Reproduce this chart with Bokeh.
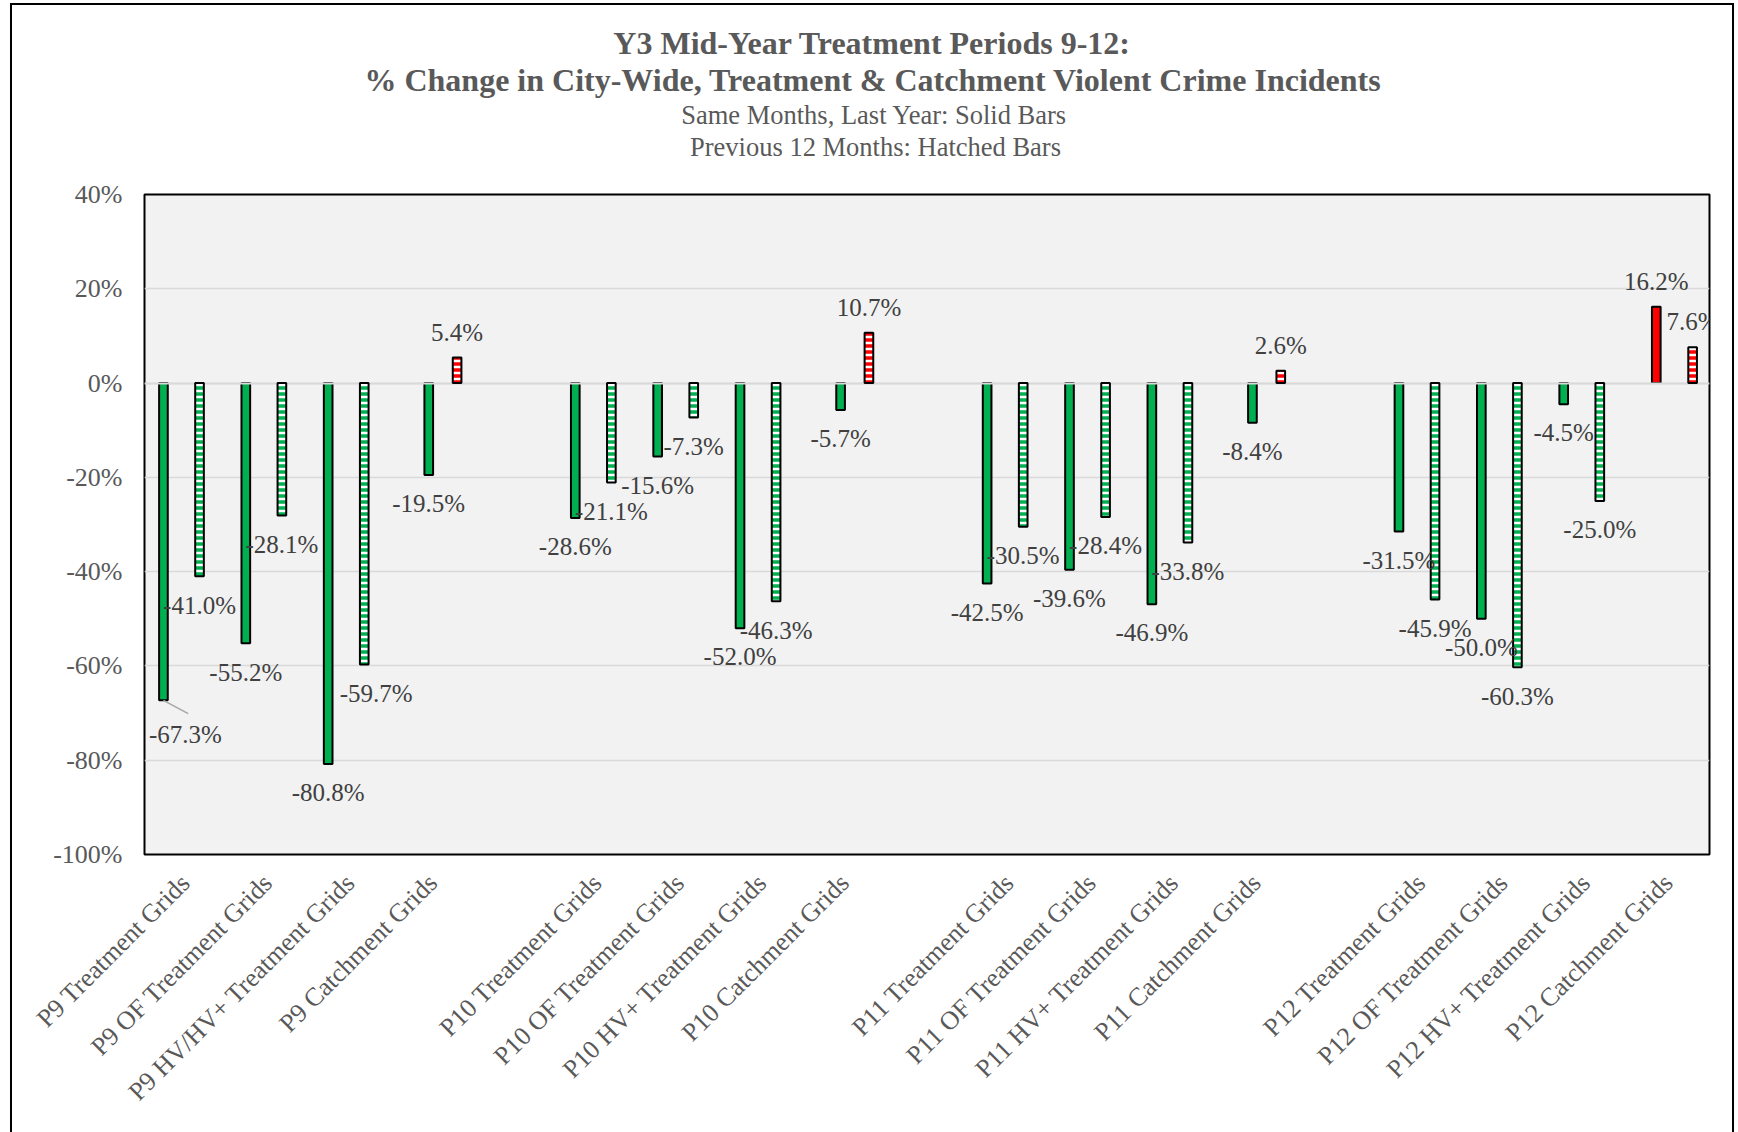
from math import pi
from bokeh.plotting import figure
from bokeh.models import (ColumnDataSource, FactorRange, LabelSet, Title, FixedTicker)
from bokeh.transform import dodge
from bokeh.embed import file_html
from bokeh.resources import INLINE

# ---------------- data ----------------
categories = [
    "P9 Treatment Grids", "P9 OF Treatment Grids", "P9 HV/HV+ Treatment Grids", "P9 Catchment Grids",
    "P10 Treatment Grids", "P10 OF Treatment Grids", "P10 HV+ Treatment Grids", "P10 Catchment Grids",
    "P11 Treatment Grids", "P11 OF Treatment Grids", "P11 HV+ Treatment Grids", "P11 Catchment Grids",
    "P12 Treatment Grids", "P12 OF Treatment Grids", "P12 HV+ Treatment Grids", "P12 Catchment Grids",
]
is_catchment = [False, False, False, True] * 4
same_months_last_year = [-67.3, -55.2, -80.8, -19.5,
                         -28.6, -15.6, -52.0, -5.7,
                         -42.5, -39.6, -46.9, -8.4,
                         -31.5, -50.0, -4.5, 16.2]
previous_12_months = [-41.0, -28.1, -59.7, 5.4,
                      -21.1, -7.3, -46.3, 10.7,
                      -30.5, -28.4, -33.8, 2.6,
                      -45.9, -60.3, -25.0, 7.6]
y_ticks = [40, 20, 0, -20, -40, -60, -80, -100]
title_lines = ["Y3 Mid-Year Treatment Periods 9-12:",
               "% Change in City-Wide, Treatment & Catchment Violent Crime Incidents"]
subtitle_lines = ["Same Months, Last Year: Solid Bars",
                  "Previous 12 Months: Hatched Bars"]

# ---------------- styling ----------------
GREEN = "#00B050"
RED = "#FF0000"
TXT = "#595959"
LBL = "#404040"
FONT = "Liberation Serif"
FRAME_LEFT = 144
TEXT_CENTER = 875

# Liberation Serif (Times metrics) advance widths, per 1000 em, used only to centre titles
W_REG = {" ": 250, ",": 250, ":": 278, "S": 556, "a": 444, "m": 778, "e": 444, "M": 889,
         "o": 500, "n": 500, "t": 278, "h": 500, "s": 389, "L": 611, "Y": 722, "r": 333,
         "l": 278, "i": 278, "d": 500, "B": 667, "P": 556, "v": 500, "u": 500, "H": 722,
         "c": 444, "1": 500, "2": 500}
W_BOLD = {" ": 250, ",": 250, ":": 333, "-": 333, "%": 1000, "&": 833, "Y": 722, "M": 944,
          "i": 278, "d": 556, "e": 444, "a": 500, "r": 444, "T": 667, "t": 333, "m": 833,
          "n": 556, "P": 611, "o": 500, "s": 389, "C": 722, "h": 556, "g": 500, "y": 500,
          "W": 1000, "c": 444, "V": 722, "l": 278, "I": 389}


def text_width(s, table, size):
    return sum(table.get(ch, 500) for ch in s) / 1000.0 * size


# factors with blank separators between period groups
factors = []
for i, c in enumerate(categories):
    factors.append(c)
    if i % 4 == 3 and i < len(categories) - 1:
        factors.append(" " * (i // 4 + 1))

p = figure(x_range=FactorRange(*factors, range_padding=0), y_range=(-100, 40),
           frame_width=1565, frame_height=660,
           min_border_left=FRAME_LEFT, min_border_right=29, min_border_top=194,
           min_border_bottom=278,
           output_backend="svg", toolbar_location=None)
p.background_fill_color = "#F2F2F2"
p.border_fill_color = None
p.outline_line_color = "black"
p.outline_line_width = 2
# outer chart border (page decoration around the whole chart)
p.styles = {
    "background": ("linear-gradient(#000,#000) 10px 3px / 2px 1300px no-repeat, "
                   "linear-gradient(#000,#000) 10px 3px / 1724px 2px no-repeat, "
                   "linear-gradient(#000,#000) 1732px 3px / 2px 1300px no-repeat, #ffffff"),
}

p.xgrid.grid_line_color = None
p.ygrid.grid_line_color = "#D9D9D9"
p.ygrid.grid_line_width = 1.5

p.yaxis.ticker = FixedTicker(ticks=y_ticks)
p.yaxis.major_label_overrides = {t: f"{t}%" for t in y_ticks}
for ax in (p.xaxis, p.yaxis):
    ax.axis_line_color = None
    ax.major_tick_line_color = None
    ax.minor_tick_line_color = None
    ax.major_label_text_font = FONT
    ax.major_label_text_font_size = "26px"
    ax.major_label_text_color = TXT
p.yaxis.major_label_standoff = 16
p.xaxis.major_label_orientation = pi / 4
p.xaxis.major_label_standoff = 18

BAR_W = 0.105


def make_source(idx, vals):
    v = [vals[i] for i in idx]
    return ColumnDataSource(dict(
        cat=[categories[i] for i in idx],
        v=v,
        color=[RED if x > 0 else GREEN for x in v],
        lbl=[f"{x:.1f}%" for x in v],
        dx=[0.0 for _ in v],
        dy=[25.5 if x > 0 else -28.7 for x in v],
    ))


treat = [i for i in range(16) if not is_catchment[i]]
catch_neg = [i for i in range(16) if is_catchment[i] and same_months_last_year[i] <= 0]
catch_pos = [i for i in range(16) if is_catchment[i] and same_months_last_year[i] > 0]
catch = [i for i in range(16) if is_catchment[i]]

solid_sets = [
    (make_source(treat, same_months_last_year), -0.27),
    (make_source(catch_neg, same_months_last_year), -0.049),
    (make_source(catch_pos, same_months_last_year), -0.146),
]
hatched_sets = [
    (make_source(treat, previous_12_months), 0.168),
    (make_source(catch, previous_12_months), 0.295),
]

# label nudges (pixels) for a few labels moved off the bar end
s0 = solid_sets[0][0]
s0.data["dx"][0] = 22.0
s0.data["dy"][0] = -34.0
h0 = hatched_sets[0][0]
h0.data["dx"][2] = 12.0

for src, off in solid_sets:
    p.vbar(x=dodge("cat", off, range=p.x_range), top="v", bottom=0, width=BAR_W,
           source=src, fill_color="color", line_color="black", line_width=2)

# category axis line at zero (drawn above solid bars)
p.hspan(y=[0], line_color="#D9D9D9", line_width=2)

for src, off in hatched_sets:
    p.vbar(x=dodge("cat", off, range=p.x_range), top="v", bottom=0, width=BAR_W,
           source=src, fill_color="white", hatch_pattern="horizontal_line",
           hatch_color="color", hatch_scale=6, hatch_weight=3.5,
           line_color="black", line_width=2)

# leader line for the moved -67.3% label
lead = ColumnDataSource(dict(cat=[s0.data["cat"][0]], y0=[s0.data["v"][0]],
                             y1=[s0.data["v"][0] - 2.8]))
p.segment(x0=dodge("cat", -0.27, range=p.x_range), y0="y0",
          x1=dodge("cat", -0.27 + 0.30, range=p.x_range), y1="y1",
          source=lead, line_color="#A6A6A6", line_width=1.5)

for src, off in solid_sets + hatched_sets:
    p.add_layout(LabelSet(x=dodge("cat", off, range=p.x_range), y="v", text="lbl",
                          x_offset="dx", y_offset="dy", source=src,
                          text_align="center", text_baseline="middle",
                          text_font=FONT, text_font_size="25px", text_color=LBL))

# titles: each "above" item added earlier sits nearer the plot area
p.add_layout(Title(text=" ", text_font_size="2px", standoff=27.8), "above")  # spacer

SUB_SIZE = 26.5
TITLE_SIZE = 32
for txt, so in [(subtitle_lines[1], 2.0), (subtitle_lines[0], -3.6)]:
    w = text_width(txt, W_REG, SUB_SIZE)
    p.add_layout(Title(text=txt, align="left", offset=TEXT_CENTER - FRAME_LEFT - w / 2,
                       text_font=FONT, text_font_size=f"{SUB_SIZE}px",
                       text_font_style="normal", text_color=TXT, standoff=so), "above")
for txt, so in [(title_lines[1], 5.6), (title_lines[0], -8.2)]:
    w = text_width(txt, W_BOLD, TITLE_SIZE)
    p.add_layout(Title(text=txt, align="left", offset=TEXT_CENTER - FRAME_LEFT - w / 2,
                       text_font=FONT, text_font_size=f"{TITLE_SIZE}px",
                       text_font_style="bold", text_color=TXT, standoff=so), "above")

open("out.html", "w").write(file_html(p, INLINE))
